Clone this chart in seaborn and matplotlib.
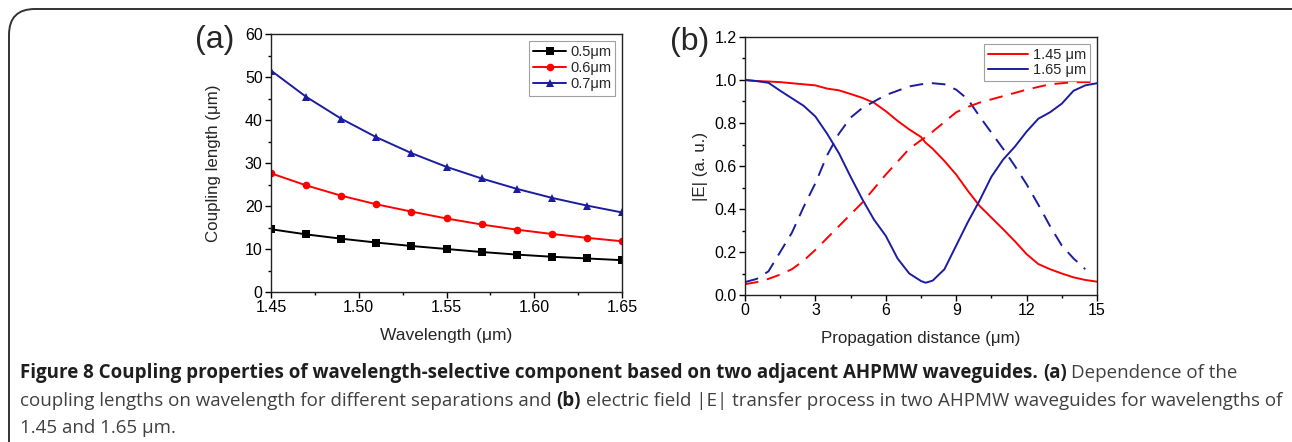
import matplotlib
matplotlib.use("Agg")
import matplotlib.pyplot as plt
import matplotlib.patches as mpatches
from matplotlib.ticker import AutoMinorLocator, MultipleLocator
import seaborn as sns

# panel (a): coupling length vs wavelength
wavelength = [1.45, 1.47, 1.49, 1.51, 1.53, 1.55, 1.57, 1.59, 1.61, 1.63, 1.65]
sep_labels = ["0.5\u03bcm", "0.6\u03bcm", "0.7\u03bcm"]
len_05 = [14.6, 13.4, 12.4, 11.5, 10.7, 10.0, 9.3, 8.7, 8.2, 7.8, 7.4]
len_06 = [27.6, 24.8, 22.4, 20.4, 18.7, 17.1, 15.7, 14.5, 13.5, 12.6, 11.8]
len_07 = [51.5, 45.4, 40.3, 36.0, 32.3, 29.1, 26.4, 24.0, 21.9, 20.1, 18.5]

# panel (b): |E| along propagation distance
dist = [0, 0.5, 1, 1.5, 2, 2.5, 3, 3.5, 4, 4.5, 5, 5.5, 6, 6.5, 7, 7.5, 7.7, 8,
        8.5, 9, 9.5, 10, 10.5, 11, 11.5, 12, 12.5, 13, 13.5, 14, 14.5, 15]
red_solid = [1.0, 0.995, 0.993, 0.99, 0.985, 0.98, 0.975, 0.96, 0.952, 0.935, 0.917,
             0.894, 0.855, 0.81, 0.77, 0.735, 0.708, 0.68, 0.623, 0.56, 0.484, 0.414,
             0.36, 0.306, 0.25, 0.19, 0.144, 0.12, 0.1, 0.082, 0.07, 0.062]
blue_solid = [1.0, 0.995, 0.987, 0.95, 0.915, 0.88, 0.83, 0.75, 0.66, 0.55, 0.445,
              0.35, 0.275, 0.17, 0.10, 0.065, 0.057, 0.067, 0.12, 0.23, 0.34, 0.44,
              0.55, 0.63, 0.69, 0.76, 0.82, 0.85, 0.89, 0.95, 0.975, 0.985]
dist_bd = dist[:-1]
blue_dash = [0.06, 0.075, 0.11, 0.2, 0.29, 0.41, 0.52, 0.65, 0.75, 0.825, 0.87,
             0.90, 0.93, 0.95, 0.97, 0.98, 0.982, 0.985, 0.98, 0.955, 0.91, 0.83,
             0.755, 0.68, 0.60, 0.515, 0.42, 0.32, 0.23, 0.17, 0.12]
red_dash = [0.05, 0.06, 0.075, 0.095, 0.12, 0.16, 0.21, 0.265, 0.32, 0.375, 0.43,
            0.495, 0.56, 0.62, 0.68, 0.72, 0.735, 0.76, 0.805, 0.85, 0.875, 0.895,
            0.91, 0.925, 0.94, 0.955, 0.968, 0.98, 0.985, 0.99, 0.99, 0.99]
wl_labels = ["1.45 \u03bcm", "1.65 \u03bcm"]

NAVY = "#1c1ca0"
RED = "#ff0000"
W, H = 1292, 442
CAP_FONT = ["Open Sans", "DejaVu Sans"]

sns.set_style("ticks")
plt.rcParams["font.family"] = ["Liberation Sans", "DejaVu Sans"]
plt.rcParams["axes.linewidth"] = 1.0

fig = plt.figure(figsize=(W / 100, H / 100), dpi=100)
ax1 = fig.add_axes([271 / W, 1 - 292 / H, 351 / W, 258 / H])
ax2 = fig.add_axes([745 / W, 1 - 295 / H, 352 / W, 258 / H])

# (a)
for vals, lab, col, mk in zip([len_05, len_06, len_07], sep_labels,
                              ["black", RED, NAVY], ["s", "o", "^"]):
    sns.lineplot(x=wavelength, y=vals, ax=ax1, color=col, marker=mk, markersize=5.5,
                 markeredgewidth=0, linewidth=1.4, label=lab)
ax1.set_xlim(1.45, 1.65)
ax1.set_ylim(0, 60)
ax1.xaxis.set_major_locator(MultipleLocator(0.05))
ax1.yaxis.set_major_locator(MultipleLocator(10))
ax1.xaxis.set_major_formatter(plt.FormatStrFormatter("%.2f"))
ax1.set_xlabel("Wavelength (\u03bcm)", fontsize=12.5)
ax1.set_ylabel("Coupling length (\u03bcm)", fontsize=12.2)
ax1.xaxis.set_label_coords(0.5, -0.14)
ax1.yaxis.set_label_coords(-0.142, 0.5)
leg1 = ax1.legend(loc="upper right", fontsize=10.5, frameon=True, fancybox=False,
                  edgecolor="#888888", handlelength=2.2, borderpad=0.3,
                  labelspacing=0.15, handletextpad=0.3, borderaxespad=0.45)
leg1.get_frame().set_linewidth(0.8)

# (b)
sns.lineplot(x=dist, y=red_solid, ax=ax2, color=RED, linewidth=1.4, label=wl_labels[0])
sns.lineplot(x=dist, y=blue_solid, ax=ax2, color=NAVY, linewidth=1.4, label=wl_labels[1])
sns.lineplot(x=dist_bd, y=blue_dash, ax=ax2, color=NAVY, linewidth=1.4)
sns.lineplot(x=dist, y=red_dash, ax=ax2, color=RED, linewidth=1.4)
for ln in ax2.get_lines()[2:]:
    ln.set_dashes((7, 4.5))
ax2.set_xlim(0, 15)
ax2.set_ylim(0, 1.2)
ax2.xaxis.set_major_locator(MultipleLocator(3))
ax2.yaxis.set_major_locator(MultipleLocator(0.2))
ax2.yaxis.set_major_formatter(plt.FormatStrFormatter("%.1f"))
ax2.set_xlabel("Propagation distance (\u03bcm)", fontsize=12.2)
ax2.set_ylabel("|E| (a. u.)", fontsize=12.2)
ax2.xaxis.set_label_coords(0.5, -0.14)
ax2.yaxis.set_label_coords(-0.105, 0.5)
leg2 = ax2.legend(loc="upper right", fontsize=10.5, frameon=True, fancybox=False,
                  edgecolor="#888888", handlelength=2.8, borderpad=0.25,
                  labelspacing=0.1, handletextpad=0.3, borderaxespad=0.5)
leg2.get_frame().set_linewidth(0.8)

for ax in (ax1, ax2):
    ax.xaxis.set_minor_locator(AutoMinorLocator(2))
    ax.yaxis.set_minor_locator(AutoMinorLocator(2))
    ax.tick_params(which="both", direction="out", top=False, right=False,
                   labelsize=11.5, width=1.0, color="black", labelcolor="black")
    ax.tick_params(which="major", length=4, pad=2)
    ax.tick_params(which="minor", length=2.5)
    for sp in ax.spines.values():
        sp.set_visible(True)
        sp.set_color("#222222")

fig.text(215 / W, 1 - 40 / H, "(a)", fontsize=23, ha="center", va="center")
fig.text(690 / W, 1 - 42 / H, "(b)", fontsize=23, ha="center", va="center")

# rounded frame around the figure
frame = mpatches.FancyBboxPatch((9 / W, -0.2), (W + 20) / W, 1.2 - 9 / H,
                                boxstyle="round,pad=0,rounding_size=0.02",
                                transform=fig.transFigure, fill=False,
                                edgecolor="#333333", linewidth=1.4,
                                mutation_aspect=W / H)
fig.patches.append(frame)

# caption with bold runs
caption = [
    [("Figure 8 Coupling properties of wavelength-selective component based on two adjacent AHPMW waveguides.", True),
     ("(a)", True), ("Dependence of the", False)],
    [("coupling lengths on wavelength for different separations and", False), ("(b)", True),
     ("electric field |E| transfer process in two AHPMW waveguides for wavelengths of", False)],
    [("1.45 and 1.65 \u03bcm.", False)],
]
targets = [1233, 1260]  # widths of lines 1 and 2, starting at x = 20
baselines = [378, 406, 433]
renderer = fig.canvas.get_renderer()


def line_width(pieces, size):
    tot = 0
    for txt, bold in pieces:
        t = fig.text(0, 0, txt, fontsize=size, family=CAP_FONT,
                     fontweight="bold" if bold else "normal")
        tot += t.get_window_extent(renderer).width
        t.remove()
    a = fig.text(0, 0, "a a", fontsize=size, family=CAP_FONT)
    b = fig.text(0, 0, "aa", fontsize=size, family=CAP_FONT)
    sp = a.get_window_extent(renderer).width - b.get_window_extent(renderer).width
    a.remove()
    b.remove()
    return tot + sp * (len(pieces) - 1), sp


cap_size = min(12 * tw / line_width(p, 12)[0] for p, tw in zip(caption, targets))
_, space = line_width(caption[0], cap_size)

for pieces, yb in zip(caption, baselines):
    x = 20
    for txt, bold in pieces:
        t = fig.text(x / W, 1 - yb / H, txt, fontsize=cap_size, family=CAP_FONT,
                     fontweight="bold" if bold else "normal",
                     color="#1e1e1e" if bold else "#404040", va="baseline", ha="left")
        x += t.get_window_extent(renderer).width + space

fig.savefig("out.png", dpi=100)
